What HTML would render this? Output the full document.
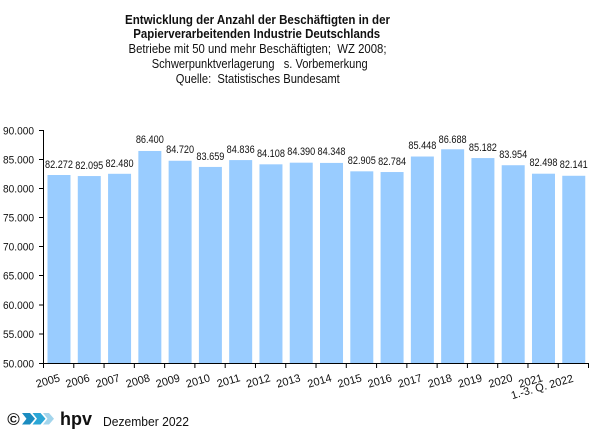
<!DOCTYPE html>
<html><head><meta charset="utf-8"><style>
html,body{margin:0;padding:0;background:#fff;}
svg{display:block;}
text{font-family:"Liberation Sans",Arial,sans-serif;fill:#111;}
</style></head><body>
<svg width="603" height="448" viewBox="0 0 603 448" xmlns="http://www.w3.org/2000/svg">
<!-- Title -->
<g text-anchor="middle">
<text x="257.5" y="24" font-size="12.5" font-weight="bold" textLength="265" lengthAdjust="spacingAndGlyphs">Entwicklung der Anzahl der Beschäftigten in der</text>
<text x="256.7" y="38" font-size="12.5" font-weight="bold" textLength="247" lengthAdjust="spacingAndGlyphs">Papierverarbeitenden Industrie Deutschlands</text>
<text x="257.5" y="53" font-size="12.5" textLength="258" lengthAdjust="spacingAndGlyphs" style="white-space:pre">Betriebe mit 50 und mehr Beschäftigten;  WZ 2008;</text>
<text x="259.7" y="68" font-size="12.5" textLength="216" lengthAdjust="spacingAndGlyphs" style="white-space:pre">Schwerpunktverlagerung   s. Vorbemerkung</text>
<text x="257.8" y="83" font-size="12.5" textLength="164" lengthAdjust="spacingAndGlyphs" style="white-space:pre">Quelle:  Statistisches Bundesamt</text>
</g>

<!-- Bars -->
<g fill="#99CCFF">
<rect x="47.5" y="175.0" width="23" height="188.0"/>
<rect x="77.78" y="176.05" width="23" height="186.95"/>
<rect x="108.06" y="173.8" width="23" height="189.2"/>
<rect x="138.34" y="150.97" width="23" height="212.03"/>
<rect x="168.62" y="160.76" width="23" height="202.24"/>
<rect x="198.9" y="166.94" width="23" height="196.06"/>
<rect x="229.18" y="160.08" width="23" height="202.92"/>
<rect x="259.46" y="164.32" width="23" height="198.68"/>
<rect x="289.74" y="162.68" width="23" height="200.32"/>
<rect x="320.02" y="162.92" width="23" height="200.08"/>
<rect x="350.3" y="171.33" width="23" height="191.67"/>
<rect x="380.58" y="172.03" width="23" height="190.97"/>
<rect x="410.86" y="156.52" width="23" height="206.48"/>
<rect x="441.14" y="149.29" width="23" height="213.71"/>
<rect x="471.42" y="158.06" width="23" height="204.94"/>
<rect x="501.7" y="165.22" width="23" height="197.78"/>
<rect x="531.98" y="173.7" width="23" height="189.3"/>
<rect x="562.26" y="175.78" width="23" height="187.22"/>
</g>

<!-- Value labels -->
<g text-anchor="middle" font-size="11">
<text x="59" y="168" textLength="28" lengthAdjust="spacingAndGlyphs">82.272</text>
<text x="89.28" y="169" textLength="28" lengthAdjust="spacingAndGlyphs">82.095</text>
<text x="119.56" y="167" textLength="28" lengthAdjust="spacingAndGlyphs">82.480</text>
<text x="149.84" y="143" textLength="28" lengthAdjust="spacingAndGlyphs">86.400</text>
<text x="180.12" y="153" textLength="28" lengthAdjust="spacingAndGlyphs">84.720</text>
<text x="210.4" y="160" textLength="28" lengthAdjust="spacingAndGlyphs">83.659</text>
<text x="240.68" y="153" textLength="28" lengthAdjust="spacingAndGlyphs">84.836</text>
<text x="270.96" y="157" textLength="28" lengthAdjust="spacingAndGlyphs">84.108</text>
<text x="301.24" y="155" textLength="28" lengthAdjust="spacingAndGlyphs">84.390</text>
<text x="331.52" y="155" textLength="28" lengthAdjust="spacingAndGlyphs">84.348</text>
<text x="361.8" y="164" textLength="28" lengthAdjust="spacingAndGlyphs">82.905</text>
<text x="392.08" y="165" textLength="28" lengthAdjust="spacingAndGlyphs">82.784</text>
<text x="422.36" y="149" textLength="28" lengthAdjust="spacingAndGlyphs">85.448</text>
<text x="452.64" y="143" textLength="28" lengthAdjust="spacingAndGlyphs">86.688</text>
<text x="482.92" y="151" textLength="28" lengthAdjust="spacingAndGlyphs">85.182</text>
<text x="513.2" y="158" textLength="28" lengthAdjust="spacingAndGlyphs">83.954</text>
<text x="543.48" y="166" textLength="28" lengthAdjust="spacingAndGlyphs">82.498</text>
<text x="573.76" y="168" textLength="28" lengthAdjust="spacingAndGlyphs">82.141</text>
</g>

<!-- Axes -->
<g stroke="#000" stroke-width="1" fill="none">
<line x1="43.5" y1="130" x2="43.5" y2="363.5"/>
<line x1="43" y1="363.5" x2="588.5" y2="363.5"/>
<!-- y ticks -->
<line x1="39" y1="130.5" x2="43.5" y2="130.5"/>
<line x1="39" y1="159.5" x2="43.5" y2="159.5"/>
<line x1="39" y1="188.5" x2="43.5" y2="188.5"/>
<line x1="39" y1="217.5" x2="43.5" y2="217.5"/>
<line x1="39" y1="246.5" x2="43.5" y2="246.5"/>
<line x1="39" y1="275.5" x2="43.5" y2="275.5"/>
<line x1="39" y1="305" x2="43.5" y2="305"/>
<line x1="39" y1="334" x2="43.5" y2="334"/>
<line x1="39" y1="363.5" x2="43.5" y2="363.5"/>
<!-- x ticks -->
<line x1="43.5" y1="363" x2="43.5" y2="368"/>
<line x1="73.78" y1="363" x2="73.78" y2="368"/>
<line x1="104.06" y1="363" x2="104.06" y2="368"/>
<line x1="134.34" y1="363" x2="134.34" y2="368"/>
<line x1="164.62" y1="363" x2="164.62" y2="368"/>
<line x1="194.9" y1="363" x2="194.9" y2="368"/>
<line x1="225.18" y1="363" x2="225.18" y2="368"/>
<line x1="255.46" y1="363" x2="255.46" y2="368"/>
<line x1="285.74" y1="363" x2="285.74" y2="368"/>
<line x1="316.02" y1="363" x2="316.02" y2="368"/>
<line x1="346.3" y1="363" x2="346.3" y2="368"/>
<line x1="376.58" y1="363" x2="376.58" y2="368"/>
<line x1="406.86" y1="363" x2="406.86" y2="368"/>
<line x1="437.14" y1="363" x2="437.14" y2="368"/>
<line x1="467.42" y1="363" x2="467.42" y2="368"/>
<line x1="497.7" y1="363" x2="497.7" y2="368"/>
<line x1="527.98" y1="363" x2="527.98" y2="368"/>
<line x1="558.26" y1="363" x2="558.26" y2="368"/>
<line x1="588.5" y1="363" x2="588.5" y2="368"/>
</g>

<!-- Y labels -->
<g text-anchor="end" font-size="11">
<text x="34" y="134.5" textLength="31" lengthAdjust="spacingAndGlyphs">90.000</text>
<text x="34" y="163.5" textLength="31" lengthAdjust="spacingAndGlyphs">85.000</text>
<text x="34" y="192.5" textLength="31" lengthAdjust="spacingAndGlyphs">80.000</text>
<text x="34" y="221.5" textLength="31" lengthAdjust="spacingAndGlyphs">75.000</text>
<text x="34" y="250.5" textLength="31" lengthAdjust="spacingAndGlyphs">70.000</text>
<text x="34" y="279.5" textLength="31" lengthAdjust="spacingAndGlyphs">65.000</text>
<text x="34" y="309" textLength="31" lengthAdjust="spacingAndGlyphs">60.000</text>
<text x="34" y="338" textLength="31" lengthAdjust="spacingAndGlyphs">55.000</text>
<text x="34" y="367.5" textLength="31" lengthAdjust="spacingAndGlyphs">50.000</text>
</g>

<!-- X labels -->
<g text-anchor="end" font-size="11">
<text transform="translate(60.6,381) rotate(-16)">2005</text>
<text transform="translate(90.4,381) rotate(-16)">2006</text>
<text transform="translate(120.5,381) rotate(-16)">2007</text>
<text transform="translate(150.6,381) rotate(-16)">2008</text>
<text transform="translate(180.7,381) rotate(-16)">2009</text>
<text transform="translate(210.8,381) rotate(-16)">2010</text>
<text transform="translate(240.9,381) rotate(-16)">2011</text>
<text transform="translate(271,381) rotate(-16)">2012</text>
<text transform="translate(301.2,381) rotate(-16)">2013</text>
<text transform="translate(332.3,381) rotate(-16)">2014</text>
<text transform="translate(362.4,381) rotate(-16)">2015</text>
<text transform="translate(392.5,381) rotate(-16)">2016</text>
<text transform="translate(422.6,381) rotate(-16)">2017</text>
<text transform="translate(452.7,381) rotate(-16)">2018</text>
<text transform="translate(482.8,381) rotate(-16)">2019</text>
<text transform="translate(513.3,381) rotate(-16)">2020</text>
<text transform="translate(543.3,381) rotate(-16)">2021</text>
<text transform="translate(574,381.5) rotate(-16)">1.-3. Q. 2022</text>
</g>

<!-- Footer -->
<text x="13.5" y="425" font-size="17" font-weight="bold" text-anchor="middle">©</text>
<polygon points="22,413 30,413 35,418.7 30,424.5 22,424.5 26.5,418.7" fill="#1b8cc0"/>
<polygon points="32.5,413 40.5,413 45.5,418.7 40.5,424.5 32.5,424.5 37,418.7" fill="#2ba6d6"/>
<polygon points="43,413 49,413 54,418.7 49,424.5 43,424.5 47.5,418.7" fill="#a3d5ec"/>
<text x="60" y="425" font-size="18" font-weight="bold" textLength="32" lengthAdjust="spacingAndGlyphs">hpv</text>
<text x="103" y="426" font-size="13" textLength="86" lengthAdjust="spacingAndGlyphs">Dezember 2022</text>
</svg>
</body></html>
